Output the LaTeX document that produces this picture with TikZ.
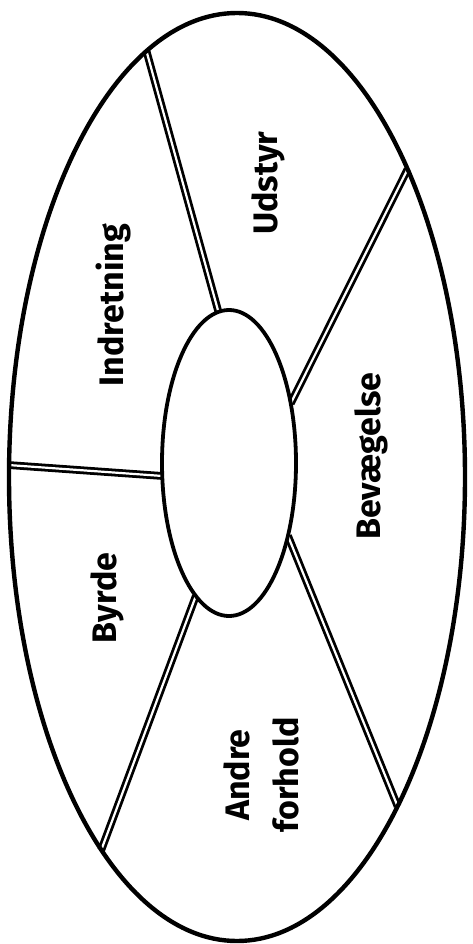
\documentclass[tikz,border=0pt]{standalone}
\usepackage{fontspec}
\setmainfont{Fira Sans}
\usetikzlibrary{shapes.geometric,backgrounds}
\tikzset{
  ring/.style={ellipse, draw=black, inner sep=0pt, outer sep=0pt},
  spoke/.style={draw=black, line width=2.8pt, double=white, double distance=2.2pt},
  lbl/.style={rotate=90, inner sep=0pt, font=\fontsize{34}{49}\selectfont\bfseries}
}
\begin{document}
\begin{tikzpicture}[x=1pt,y=-1pt]
\useasboundingbox (0,0) rectangle (472,944);
\node[ring, line width=4.4pt, minimum width=456pt, minimum height=928pt] (rim) at (237,477) {};
\node[ring, line width=3.8pt, fill=white, minimum width=134pt, minimum height=306pt] (hub) at (229,463) {};
\begin{scope}[on background layer]
  \draw[spoke] (hub.94.2) -- (rim.102.4);
  \draw[spoke] (hub.44.6) -- (rim.61.0);
  \draw[spoke] (hub.191) -- (rim.177.5);
  \draw[spoke] (hub.309.3) -- (rim.296.5);
  \draw[spoke] (hub.256.6) -- (rim.250.0);
\end{scope}
\node[lbl, anchor=base] (udstyr) at (277,183) {Udstyr};
\node[lbl, anchor=base] (indretning) at (123,305) {Indretning};
\node[lbl, anchor=base] (bevaegelse) at (380,456) {Bevægelse};
\node[lbl, anchor=base] (byrde) at (116,598) {Byrde};
\node[lbl, align=center] (andre) at (261,775) {Andre\\forhold};
\end{tikzpicture}
\end{document}
